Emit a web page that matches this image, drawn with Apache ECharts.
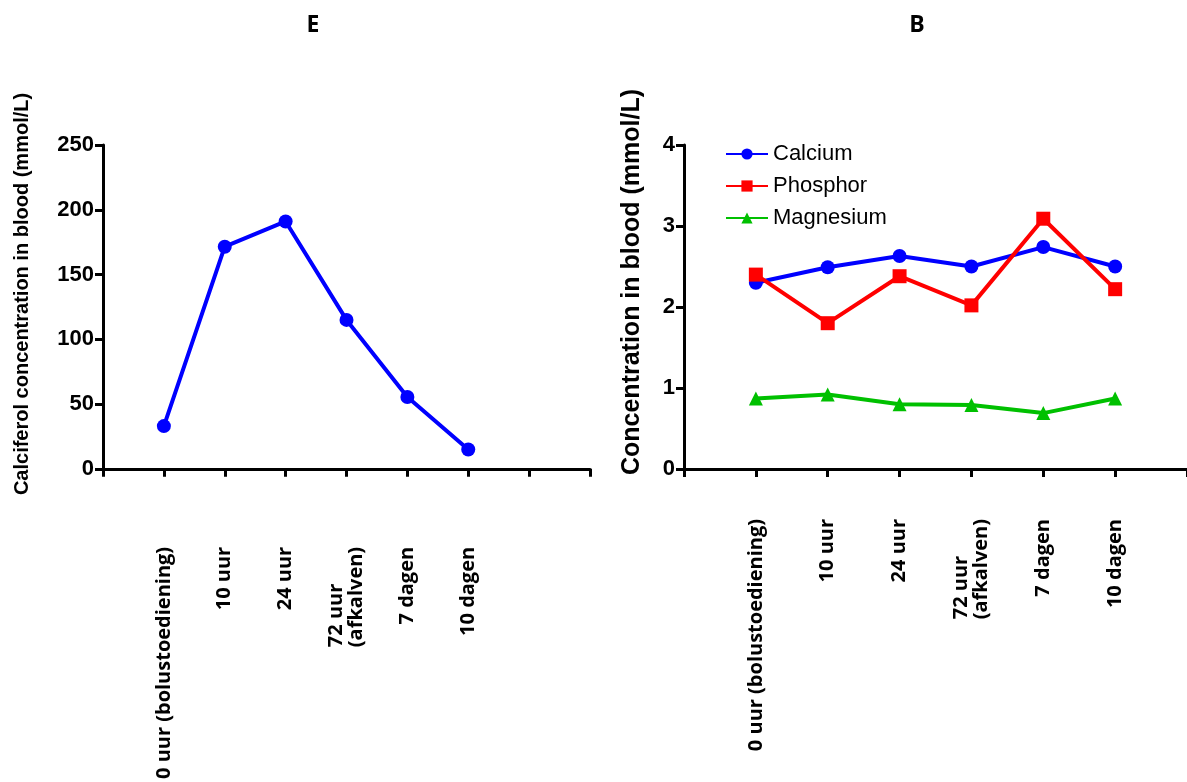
<!DOCTYPE html>
<html>
<head>
<meta charset="utf-8">
<script src="https://cdn.jsdelivr.net/npm/echarts@6/dist/echarts.min.js"></script>
<style>
html,body{margin:0;padding:0;background:#fff;}
#c{width:1187px;height:782px;}
</style>
</head>
<body>
<div id="c"></div>
<script>
// ---- data ----
const categories = ['0 uur (bolustoediening)', '10 uur', '24 uur', '72 uur\n(afkalven)', '7 dagen', '10 dagen'];
const calciferol = [33, 171.5, 191, 115, 55.5, 15];
const calcium = [2.30, 2.49, 2.63, 2.50, 2.74, 2.50];
const phosphor = [2.40, 1.80, 2.38, 2.02, 3.09, 2.22];
const magnesium = [0.87, 0.92, 0.80, 0.79, 0.69, 0.87];
const leftYTicks = [0, 50, 100, 150, 200, 250];
const rightYTicks = [0, 1, 2, 3, 4];

const toXY = arr => arr.map((v, i) => [i + 1, v]);
const labelFmt = v => {
  const c = categories[v - 1];
  if (!c) return '';
  return c.split('\n').map(s => '{l|' + s + '}').join('\n');
};
const labelFont = { fontFamily: 'Open Sans', fontWeight: 'bold', fontSize: 20, color: '#000' };
const axisLine = { show: true, onZero: false, lineStyle: { color: '#000', width: 3 } };
const axisTick = { show: true, length: 8, lineStyle: { color: '#000', width: 3 } };
const yLabel = { fontFamily: 'Liberation Sans', fontWeight: 'bold', fontSize: 22, color: '#000', margin: 9 };

const chart = echarts.init(document.getElementById('c'), null, { renderer: 'canvas' });
chart.setOption({
  animation: false,
  backgroundColor: '#fff',
  graphic: [
    { type: 'text', x: 313, y: 25, style: { text: 'E', font: 'bold 23px "Open Sans"', fill: '#000', align: 'center', verticalAlign: 'middle' } },
    { type: 'text', x: 917, y: 25, style: { text: 'B', font: 'bold 23px "Open Sans"', fill: '#000', align: 'center', verticalAlign: 'middle' } },
    { type: 'text', x: 22, y: 294, rotation: Math.PI / 2, style: { text: 'Calciferol concentration in blood (mmol/L)', font: 'bold 20px "Liberation Sans"', fill: '#000', align: 'center', verticalAlign: 'middle' } },
    { type: 'text', x: 632, y: 282, rotation: Math.PI / 2, style: { text: 'Concentration in blood (mmol/L)', font: 'bold 25px "Liberation Sans"', fill: '#000', align: 'center', verticalAlign: 'middle' } }
  ],
  grid: [
    { left: 103, top: 145, width: 487, height: 324, containLabel: false },
    { left: 684, top: 145, width: 503, height: 324, containLabel: false }
  ],
  legend: {
    left: 720, top: 138, orient: 'vertical', itemWidth: 42, itemHeight: 14, itemGap: 10,
    textStyle: { fontFamily: 'Liberation Sans', fontSize: 22, color: '#000' },
    data: ['Calcium', 'Phosphor', 'Magnesium']
  },
  xAxis: [
    { type: 'value', gridIndex: 0, min: 0, max: 8, interval: 1, axisLine, axisTick, splitLine: { show: false },
      axisLabel: { ...labelFont, rotate: 90, margin: 78, formatter: labelFmt, rich: { l: { ...labelFont, align: 'left', lineHeight: 20 } } } },
    { type: 'value', gridIndex: 1, min: 0, max: 7, interval: 1, axisLine, axisTick, splitLine: { show: false },
      axisLabel: { ...labelFont, rotate: 90, margin: 50, formatter: labelFmt, rich: { l: { ...labelFont, align: 'left', lineHeight: 20 } } } }
  ],
  yAxis: [
    { type: 'value', gridIndex: 0, min: leftYTicks[0], max: leftYTicks[leftYTicks.length - 1], interval: 50, axisLine, axisTick, splitLine: { show: false }, axisLabel: yLabel },
    { type: 'value', gridIndex: 1, min: rightYTicks[0], max: rightYTicks[rightYTicks.length - 1], interval: 1, axisLine, axisTick, splitLine: { show: false }, axisLabel: yLabel }
  ],
  series: [
    { name: 'Calciferol', type: 'line', xAxisIndex: 0, yAxisIndex: 0, data: toXY(calciferol), symbol: 'circle', symbolSize: 14,
      lineStyle: { color: '#0000ff', width: 4 }, itemStyle: { color: '#0000ff' } },
    { name: 'Calcium', type: 'line', xAxisIndex: 1, yAxisIndex: 1, data: toXY(calcium), symbol: 'circle', symbolSize: 14,
      lineStyle: { color: '#0000ff', width: 4 }, itemStyle: { color: '#0000ff' } },
    { name: 'Phosphor', type: 'line', xAxisIndex: 1, yAxisIndex: 1, data: toXY(phosphor), symbol: 'rect', symbolSize: 14,
      lineStyle: { color: '#ff0000', width: 4 }, itemStyle: { color: '#ff0000' } },
    { name: 'Magnesium', type: 'line', xAxisIndex: 1, yAxisIndex: 1, data: toXY(magnesium), symbol: 'triangle', symbolSize: 14,
      lineStyle: { color: '#00c000', width: 4 }, itemStyle: { color: '#00c000' } }
  ]
});
</script>
</body>
</html>
